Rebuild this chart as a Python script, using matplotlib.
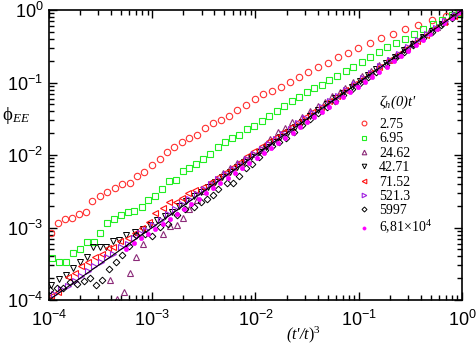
import numpy as np
import matplotlib
matplotlib.use('Agg')
from matplotlib import pyplot as plt

plt.rcParams['font.family'] = ['Liberation Sans', 'DejaVu Sans']
plt.rcParams['mathtext.fontset'] = 'custom'
plt.rcParams['mathtext.rm'] = 'Liberation Serif'
plt.rcParams['mathtext.it'] = 'Liberation Serif:italic'

# data, as (log10 x, log10 y) pairs
circ = [(-3.984, -3.072), (-3.910, -2.940), (-3.845, -2.880), (-3.780, -2.870), (-3.710, -2.820),
        (-3.645, -2.780), (-3.580, -2.640), (-3.510, -2.560), (-3.435, -2.510), (-3.360, -2.450),
        (-3.290, -2.400), (-3.215, -2.380), (-3.150, -2.290), (-3.077, -2.240), (-3.000, -2.140),
        (-2.925, -2.055), (-2.860, -1.960), (-2.790, -1.886), (-2.715, -1.825), (-2.640, -1.760),
        (-2.563, -1.724), (-2.489, -1.630), (-2.415, -1.563), (-2.337, -1.517), (-2.254, -1.462),
        (-2.176, -1.386), (-2.095, -1.314), (-2.005, -1.232), (-1.924, -1.163), (-1.837, -1.117),
        (-1.756, -1.066), (-1.666, -0.989), (-1.579, -0.928), (-1.489, -0.851), (-1.392, -0.790),
        (-1.301, -0.727), (-1.204, -0.652), (-1.107, -0.589), (-1.007, -0.524), (-0.891, -0.462),
        (-0.785, -0.390), (-0.668, -0.334), (-0.555, -0.266), (-0.423, -0.200), (-0.288, -0.142),
        (-0.153, -0.083), (-0.029, -0.028)]

squ = [(-3.974, -3.414), (-3.903, -3.476), (-3.835, -3.469), (-3.768, -3.348), (-3.700, -3.290),
       (-3.635, -3.200), (-3.569, -3.200), (-3.506, -3.080), (-3.435, -2.938), (-3.368, -2.876),
       (-3.303, -2.828), (-3.238, -2.786), (-3.172, -2.772), (-3.102, -2.717), (-3.041, -2.621),
       (-2.978, -2.561), (-2.908, -2.473), (-2.838, -2.352), (-2.770, -2.338), (-2.707, -2.221),
       (-2.641, -2.175), (-2.576, -2.124), (-2.506, -2.055), (-2.441, -1.989), (-2.368, -1.886),
       (-2.295, -1.817), (-2.231, -1.770), (-2.157, -1.724), (-2.085, -1.646), (-2.015, -1.597),
       (-1.940, -1.531), (-1.869, -1.462), (-1.795, -1.390), (-1.724, -1.321), (-1.649, -1.255),
       (-1.577, -1.200), (-1.506, -1.135), (-1.431, -1.076), (-1.359, -1.030), (-1.286, -0.966),
       (-1.209, -0.908), (-1.128, -0.841), (-1.053, -0.782), (-0.971, -0.713), (-0.891, -0.644),
       (-0.807, -0.583), (-0.724, -0.510), (-0.637, -0.455), (-0.555, -0.403), (-0.463, -0.334),
       (-0.378, -0.266), (-0.281, -0.196), (-0.194, -0.138), (-0.100, -0.069), (-0.029, -0.041)]

tri_up = [(-3.409, -3.724), (-3.344, -3.980), (-3.274, -3.883), (-3.215, -3.634), (-3.153, -3.411),
          (-3.090, -3.230), (-2.893, -3.090), (-2.828, -2.979), (-2.763, -2.966), (-2.705, -2.865),
          (-2.640, -2.740), (-2.570, -2.620), (-2.500, -2.490), (-2.430, -2.380), (-2.318, -2.252),
          (-2.250, -2.180), (-2.180, -2.110), (-2.110, -2.050), (-2.040, -1.990), (-1.966, -1.931),
          (-1.910, -1.860), (-1.860, -1.783), (-1.785, -1.679), (-1.714, -1.632), (-1.644, -1.541),
          (-1.553, -1.472), (-1.472, -1.389), (-1.392, -1.320), (-1.327, -1.265), (-1.256, -1.182),
          (-1.182, -1.127), (-1.133, -1.072), (-1.053, -0.989), (-0.966, -0.910), (-0.880, -0.840),
          (-0.800, -0.765), (-0.720, -0.690), (-0.640, -0.615), (-0.560, -0.540), (-0.480, -0.460),
          (-0.400, -0.385), (-0.320, -0.305), (-0.240, -0.230), (-0.160, -0.150), (-0.080, -0.075),
          (0.000, 0.000)]

tri_down = [(-3.984, -3.793), (-3.903, -3.706), (-3.835, -3.660), (-3.768, -3.560), (-3.700, -3.472),
            (-3.635, -3.411), (-3.571, -3.273), (-3.506, -3.265), (-3.448, -3.273), (-3.383, -3.182),
            (-3.319, -3.166), (-3.254, -3.100), (-3.167, -3.058), (-3.090, -3.020), (-3.020, -2.960),
            (-2.950, -2.900), (-2.880, -2.840), (-2.810, -2.780), (-2.740, -2.710), (-2.670, -2.640),
            (-2.600, -2.570), (-2.530, -2.510), (-2.460, -2.440), (-2.390, -2.370), (-2.320, -2.300),
            (-2.250, -2.230), (-2.180, -2.170), (-2.110, -2.100), (-2.040, -2.030), (-1.970, -1.960),
            (-1.900, -1.890), (-1.830, -1.820), (-1.760, -1.750), (-1.690, -1.680), (-1.620, -1.610),
            (-1.550, -1.540), (-1.470, -1.460), (-1.390, -1.380), (-1.310, -1.300), (-1.230, -1.220),
            (-1.150, -1.140), (-1.070, -1.060), (-0.990, -0.980), (-0.910, -0.900), (-0.830, -0.820),
            (-0.740, -0.730), (-0.650, -0.645), (-0.560, -0.555), (-0.470, -0.465), (-0.380, -0.375),
            (-0.290, -0.285), (-0.190, -0.190), (-0.090, -0.090), (0.000, 0.000)]

tri_left = [(-3.980, -3.950), (-3.916, -3.886), (-3.819, -3.679), (-3.748, -3.632), (-3.690, -3.527),
            (-3.622, -3.480), (-3.554, -3.403), (-3.490, -3.361), (-3.431, -3.287), (-3.377, -3.265),
            (-3.310, -3.190), (-3.232, -3.141), (-3.167, -3.080), (-3.102, -3.011), (-3.036, -2.920),
            (-2.970, -2.800), (-2.899, -2.735), (-2.835, -2.652), (-2.770, -2.644), (-2.715, -2.589),
            (-2.651, -2.528), (-2.586, -2.483), (-2.506, -2.437), (-2.430, -2.370), (-2.360, -2.300),
            (-2.290, -2.230), (-2.220, -2.160), (-2.150, -2.090), (-2.080, -2.020), (-2.010, -1.950),
            (-1.940, -1.880), (-1.870, -1.810), (-1.800, -1.750), (-1.730, -1.680), (-1.660, -1.610),
            (-1.590, -1.540), (-1.520, -1.475), (-1.450, -1.410), (-1.370, -1.335), (-1.290, -1.260),
            (-1.210, -1.180), (-1.130, -1.100), (-1.050, -1.025), (-0.970, -0.945), (-0.890, -0.870),
            (-0.800, -0.785), (-0.710, -0.695), (-0.620, -0.610), (-0.530, -0.520), (-0.440, -0.430),
            (-0.350, -0.345), (-0.260, -0.255), (-0.170, -0.165), (-0.080, -0.080)]

tri_right = [(-3.949, -3.917), (-3.884, -3.848), (-3.819, -3.803), (-3.753, -3.738), (-3.690, -3.669),
             (-3.625, -3.596), (-3.564, -3.530), (-3.496, -3.470), (-3.438, -3.410), (-3.377, -3.361),
             (-3.303, -3.273), (-3.238, -3.228), (-3.180, -3.150), (-3.119, -3.072), (-3.060, -3.030),
             (-2.990, -2.960), (-2.920, -2.890), (-2.850, -2.820), (-2.780, -2.750), (-2.710, -2.680),
             (-2.640, -2.610), (-2.570, -2.540), (-2.500, -2.470), (-2.430, -2.400), (-2.360, -2.330),
             (-2.290, -2.260), (-2.220, -2.190), (-2.150, -2.120), (-2.080, -2.050), (-2.010, -1.980),
             (-1.940, -1.915), (-1.870, -1.845), (-1.800, -1.775), (-1.730, -1.705), (-1.660, -1.635),
             (-1.590, -1.565), (-1.520, -1.495), (-1.440, -1.420), (-1.360, -1.340), (-1.280, -1.260),
             (-1.200, -1.180), (-1.120, -1.100), (-1.040, -1.020), (-0.960, -0.940), (-0.880, -0.865),
             (-0.790, -0.775), (-0.700, -0.690), (-0.610, -0.600), (-0.520, -0.510), (-0.430, -0.420),
             (-0.340, -0.335), (-0.250, -0.245), (-0.160, -0.155), (-0.070, -0.070)]

diam = [(-3.990, -3.862), (-3.920, -3.840), (-3.860, -3.830), (-3.797, -3.756), (-3.732, -3.786),
        (-3.663, -3.742), (-3.607, -3.694), (-3.545, -3.797), (-3.482, -3.719), (-3.417, -3.566),
        (-3.350, -3.470), (-3.290, -3.380), (-3.230, -3.260), (-3.162, -3.100), (-3.070, -3.094),
        (-3.005, -3.117), (-2.925, -2.997), (-2.850, -2.950), (-2.763, -2.830), (-2.683, -2.749),
        (-2.596, -2.721), (-2.531, -2.644), (-2.467, -2.611), (-2.410, -2.550), (-2.360, -2.473),
        (-2.279, -2.390), (-2.215, -2.382), (-2.157, -2.290), (-2.092, -2.183), (-2.034, -2.120),
        (-1.966, -2.023), (-1.908, -1.931), (-1.840, -1.880), (-1.772, -1.820), (-1.707, -1.770),
        (-1.624, -1.679), (-1.550, -1.590), (-1.470, -1.500), (-1.390, -1.420), (-1.310, -1.340),
        (-1.230, -1.260), (-1.150, -1.175), (-1.070, -1.095), (-0.990, -1.010), (-0.910, -0.930),
        (-0.830, -0.850), (-0.740, -0.760), (-0.650, -0.665), (-0.560, -0.575), (-0.470, -0.480),
        (-0.380, -0.390), (-0.290, -0.300), (-0.200, -0.205), (-0.100, -0.105), (0.000, 0.000)]

dots = [(-3.250, -3.290), (-3.180, -3.220), (-3.110, -3.150), (-3.040, -3.090), (-2.970, -3.020),
        (-2.900, -2.950), (-2.830, -2.880), (-2.760, -2.810), (-2.690, -2.740), (-2.620, -2.670),
        (-2.550, -2.600), (-2.480, -2.530), (-2.410, -2.460), (-2.340, -2.390), (-2.270, -2.320),
        (-2.200, -2.250), (-2.130, -2.180), (-2.060, -2.110), (-1.990, -2.040), (-1.920, -1.970),
        (-1.850, -1.900), (-1.780, -1.830), (-1.710, -1.760), (-1.640, -1.690), (-1.570, -1.620),
        (-1.500, -1.550), (-1.430, -1.480), (-1.360, -1.410), (-1.290, -1.340), (-1.220, -1.270),
        (-1.150, -1.200), (-1.080, -1.130), (-1.010, -1.060), (-0.940, -0.990), (-0.870, -0.920),
        (-0.800, -0.850), (-0.730, -0.780), (-0.660, -0.700), (-0.590, -0.630), (-0.520, -0.560),
        (-0.450, -0.480), (-0.380, -0.410), (-0.310, -0.330), (-0.240, -0.260), (-0.170, -0.180),
        (-0.100, -0.110), (-0.030, -0.030), (0.000, 0.000)]

labels = ['2.75', '6.95', '24.62', '42.71', '71.52', '521.3', '5997', u'6,81\u00d7$10^4$']
guide_x = [1e-4, 1.0]
guide_y = [1e-4, 1.0]
tick_vals = [1e-4, 1e-3, 1e-2, 1e-1, 1.0]
tick_txt = [r'$\mathregular{10^{-4}}$', r'$\mathregular{10^{-3}}$', r'$\mathregular{10^{-2}}$',
            r'$\mathregular{10^{-1}}$', r'$\mathregular{10^{0}}$']

fig = plt.figure(figsize=(4.77, 3.47), dpi=100)
ax = fig.add_axes([49/477, 47/347, 413/477, 290/347])

series = [
    (circ, dict(marker='o', ms=4.6, mfc='none', mec='#ff3030', mew=0.8)),
    (squ, dict(marker='s', ms=4.0, mfc='none', mec='#22ee22', mew=0.8)),
    (tri_up, dict(marker='^', ms=4.4, mfc='none', mec='#8b2a78', mew=0.8)),
    (tri_down, dict(marker='v', ms=4.4, mfc='none', mec='black', mew=0.7)),
    (tri_left, dict(marker='<', ms=4.4, mfc='none', mec='#ff1010', mew=0.8)),
    (tri_right, dict(marker='>', ms=4.4, mfc='none', mec='#a020e0', mew=0.8)),
    (diam, dict(marker='D', ms=3.4, mfc='none', mec='black', mew=0.7)),
    (dots, dict(marker='o', ms=3.0, mfc='#ff00ff', mec='#ff00ff', mew=0.5)),
]
handles = []
for (pts, st), lab in zip(series, labels):
    p = np.array(pts)
    h, = ax.plot(10**p[:, 0], 10**p[:, 1], ls='none', label=lab, **st)
    handles.append(h)

ax.plot(guide_x, guide_y, color='black', lw=0.8)

ax.set_xscale('log')
ax.set_yscale('log')
ax.set_xlim(1e-4, 1)
ax.set_ylim(1e-4, 1)
ax.set_xticks(tick_vals)
ax.set_xticklabels(tick_txt)
ax.set_yticks(tick_vals)
ax.set_yticklabels(tick_txt)
ax.tick_params(which='both', direction='in', top=True, right=True, width=1.0)
ax.tick_params(which='major', length=6, labelsize=13)
ax.tick_params(axis='x', which='major', pad=7)
ax.tick_params(axis='y', which='major', pad=4)
ax.tick_params(which='minor', length=3.5)
for s in ax.spines.values():
    s.set_linewidth(1.2)

ax.set_xlabel(r"(t'/t$)^3$", family='Liberation Serif', style='italic', fontsize=11.5)
ax.xaxis.set_label_coords(0.615, -0.085)
ax.set_ylabel(r'$\mathrm{\phi}_{EE}$', fontsize=13.5, rotation=0)
ax.yaxis.set_label_coords(-0.08, 0.6)

fig.text(379/477, 1 - 102/347, r"$\zeta_h$(0)t'", family='Liberation Serif', style='italic',
         fontsize=10.5, va='center', ha='left')
leg = ax.legend(handles=handles, loc='upper left', bbox_to_anchor=(357/477, 1 - 118/347),
                bbox_transform=fig.transFigure, frameon=False, handlelength=1.0,
                handletextpad=0.6, labelspacing=0.1, borderpad=0, borderaxespad=0,
                markerscale=0.75, prop={'family': 'Liberation Serif', 'size': 10})

fig.savefig('out.png', dpi=100)
